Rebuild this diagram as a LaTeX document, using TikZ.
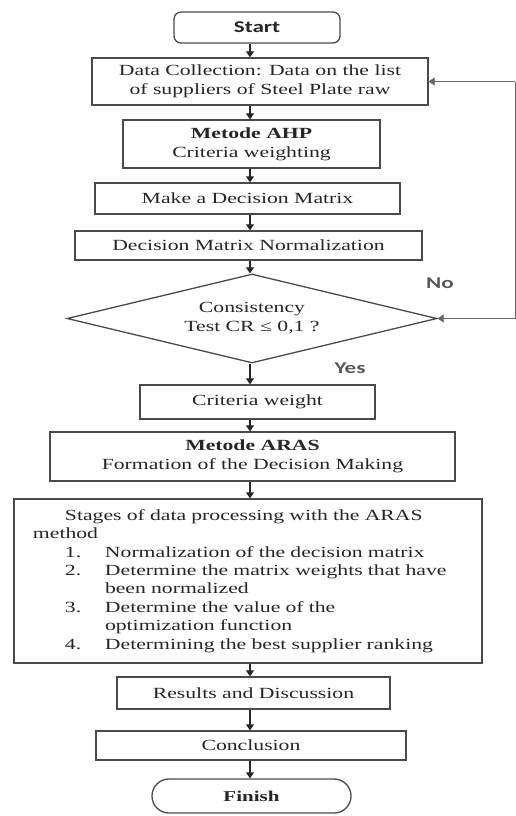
\documentclass[tikz,border=0pt]{standalone}
\usepackage{fontspec}
\setmainfont{Liberation Serif}[FakeStretch=1.4]
\newfontfamily\lblfont{Carlito}[FakeStretch=1.4]
\usetikzlibrary{arrows.meta,positioning,shapes.geometric}
\definecolor{flowline}{HTML}{4A4A4A}
\definecolor{flowtext}{HTML}{262626}
\tikzset{
  procbox/.style={draw=flowline,line width=1.3pt,align=center,inner sep=2pt,text=flowtext,font=\fontsize{15.5}{19}\selectfont},
  termbox/.style={procbox,rounded corners=7pt,font=\lblfont\bfseries\fontsize{16.5}{19}\selectfont},
  endbox/.style={procbox,rounded corners=16.9pt,font=\bfseries\fontsize{15}{19}\selectfont},
  decbox/.style={procbox,diamond,aspect=4.16,inner sep=1pt},
  ar/.style={-{Triangle[width=8pt,length=6pt]},draw=black!85,line width=1.1pt},
  fb/.style={ar,draw=black!60,line width=0.8pt},
  lbl/.style={font=\lblfont\bfseries\fontsize{16.5}{19}\selectfont,text=black!65},
}
\newcommand{\stepno}[1]{\makebox[40pt][l]{#1}}

\begin{document}
\begin{tikzpicture}[x=1pt,y=-1pt]
  \useasboundingbox (0,0) rectangle (516,816);
  \coordinate (spine) at (250,0);
  \coordinate (back) at (515,200);
  % main flow
  \node[termbox,minimum width=166pt,minimum height=31pt] (start) at (257,27.5) {Start};
  \node[procbox,minimum width=336pt,minimum height=47pt] (collect) at (260,81.5) {Data Collection: Data on the list\\of suppliers of Steel Plate raw};
  \node[procbox,minimum width=257pt,minimum height=48pt] (ahp) at (251.5,144) {\textbf{Metode AHP}\\Criteria weighting};
  \node[procbox,minimum width=305pt,minimum height=31pt] (matrix) at (247.5,198.5) {Make a Decision Matrix};
  \node[procbox,minimum width=347pt,minimum height=29pt] (norm) at (248.5,245.5) {Decision Matrix Normalization};
  \node[decbox,minimum width=370pt,minimum height=89pt] (cons) at (252,318.5) {Consistency\\Test CR ≤ 0,1 ?};
  \node[procbox,minimum width=235pt,minimum height=34pt] (weight) at (257.5,402) {Criteria weight};
  \node[procbox,minimum width=405pt,minimum height=49pt] (aras) at (252.5,456.5) {\textbf{Metode ARAS}\\Formation of the Decision Making};
  \node[procbox,minimum width=468pt,minimum height=164pt,align=left,inner xsep=19pt,text width=430pt,font=\fontsize{15.5}{18.4}\selectfont] (stages) at (248,581) {%
    \hspace*{32pt}Stages of data processing with the ARAS\\
    method\\
    \hspace*{32pt}\stepno{1.}Normalization of the decision matrix\\
    \hspace*{32pt}\stepno{2.}Determine the matrix weights that have\\
    \hspace*{72pt}been normalized\\
    \hspace*{32pt}\stepno{3.}Determine the value of the\\
    \hspace*{72pt}optimization function\\
    \hspace*{32pt}\stepno{4.}Determining the best supplier ranking};
  \node[procbox,minimum width=273pt,minimum height=32pt] (result) at (253.5,693) {Results and Discussion};
  \node[procbox,minimum width=310pt,minimum height=29pt] (concl) at (251,745.5) {Conclusion};
  \node[endbox,minimum width=199pt,minimum height=34pt] (finish) at (251.5,796) {Finish};
  % connectors
  \foreach \a/\b in {start/collect,collect/ahp,ahp/matrix,matrix/norm,norm/cons,cons/weight,weight/aras,aras/stages,stages/result,result/concl,concl/finish}
    \draw[ar] (\a.south -| spine) -- (\b.north -| spine);
  % feedback loop
  \draw[draw=black!60,line width=0.8pt] (cons.east -| back) -- (collect.east -| back);
  \draw[fb] (collect.east -| back) -- (collect.east);
  \draw[fb] (cons.east -| back) -- (cons.east);
  \node[lbl] (no) at (440,283) {No};
  \node[lbl] (yes) at (350,368) {Yes};
\end{tikzpicture}
\end{document}
